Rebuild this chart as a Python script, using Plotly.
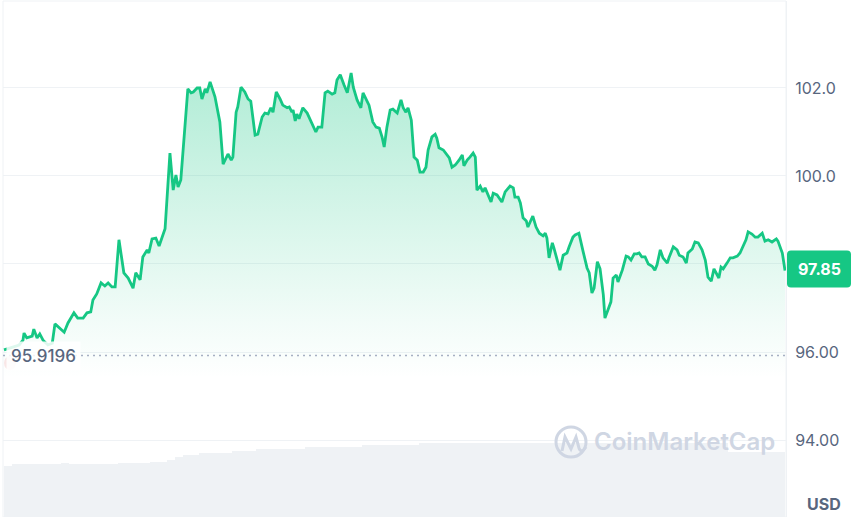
import plotly.graph_objects as go

# ---- data (minutes since start of the 24h window, price in USD) ----
minutes = [0,15,28,35,37,42,52,55,61,66,
           72,81,89,94,101,111,118,129,136,146,
           153,160,164,171,179,186,192,199,205,212,
           221,229,238,243,251,256,264,267,273,280,
           286,291,297,306,312,317,321,326,339,345,
           349,356,361,365,371,374,380,389,398,404,
           413,419,422,428,431,437,444,450,455,463,
           468,476,481,487,492,496,502,509,514,522,
           526,531,533,537,540,544,551,559,568,575,
           579,586,592,597,605,610,614,620,627,633,
           640,644,651,658,662,669,673,680,686,692,
           697,701,706,712,717,725,732,736,741,745,
           751,756,762,767,773,778,782,789,795,798,
           802,810,815,821,826,832,839,845,848,854,
           859,865,869,872,878,883,887,892,898,902,
           909,918,924,933,939,942,948,952,957,
           963,966,975,981,987,994,998,1001,1005,1011,
           1014,1020,1025,1031,1038,1042,1049,1053,1060,1068,
           1075,1079,1084,1088,1094,1099,1105,1108,1114,1119,
           1123,1129,1132,1140,1147,1151,1156,1162,1167,1171,
           1176,1182,1188,1195,1200,1204,1210,1215,1223,1226,
           1234,1241,1245,1252,1258,1261,1269,1274,1280,1287,
           1293,1298,1304,1309,1315,1318,1322,1326,1333,1339,
           1344,1352,1357,1363,1368,1372,1379,1385,1390,1398,
           1403,1409,1416,1424,1427,1435,1440]

prices = [96.05,96.11,96.16,96.27,96.43,96.32,96.36,96.52,96.32,96.41,
          96.27,96.16,96.20,96.64,96.57,96.45,96.66,96.89,96.77,96.77,
          96.89,96.91,97.18,97.32,97.57,97.50,97.57,97.48,97.48,98.55,
          97.80,97.68,97.45,97.80,97.64,98.16,98.32,98.25,98.57,98.59,
          98.41,98.61,98.80,100.52,99.68,100.02,99.75,99.91,101.98,101.89,
          101.91,102.00,102.00,101.75,101.98,101.89,102.14,101.80,101.23,100.27,
          100.50,100.36,100.43,101.45,101.57,102.02,101.91,101.75,101.70,100.93,
          100.95,101.34,101.43,101.41,101.55,101.45,101.91,101.75,101.61,101.55,
          101.57,101.45,101.50,101.25,101.41,101.30,101.55,101.43,101.20,101.00,
          101.11,101.11,101.89,101.93,101.86,101.89,102.18,102.30,102.07,101.89,
          102.34,102.02,101.73,101.55,101.89,101.73,101.61,101.23,101.11,101.09,
          100.89,100.66,101.11,101.50,101.52,101.43,101.73,101.55,101.45,101.55,
          101.27,100.43,100.36,100.09,100.09,100.20,100.59,100.89,100.95,100.86,
          100.64,100.59,100.50,100.41,100.20,100.25,100.36,100.48,100.23,100.36,
          100.43,100.52,100.43,99.68,99.77,99.64,99.73,99.57,99.41,99.61,
          99.57,99.41,99.64,99.77,99.73,99.52,99.52,99.39,99.05,
          98.98,98.84,99.09,98.84,98.70,98.64,98.70,98.59,98.14,98.48,
          98.36,98.05,97.86,98.20,98.25,98.39,98.61,98.66,98.70,98.27,
          97.91,97.80,97.34,97.45,98.05,97.89,97.30,96.77,96.95,97.14,
          97.68,97.75,97.59,97.86,98.18,98.16,98.09,98.23,98.23,98.25,
          98.16,98.16,98.00,97.95,97.86,97.98,98.32,98.14,98.02,98.14,
          98.39,98.32,98.20,98.16,98.02,98.25,98.34,98.50,98.48,98.32,
          98.09,97.70,97.61,97.89,97.75,97.68,97.93,97.89,98.02,98.14,
          98.14,98.18,98.25,98.41,98.55,98.73,98.68,98.61,98.61,98.70,
          98.52,98.55,98.50,98.57,98.52,98.25,97.85]

# 15-minute volume bars (million USD, rolling)
volume = [49.3,51.3,51.3,51.3,51.3,51.3,51.3,52.2,51.3,51.3,
          51.3,51.3,51.3,51.3,52.2,52.2,52.2,52.2,53.2,53.2,
          55.1,58.0,60.0,60.0,61.9,61.9,61.9,61.9,63.8,63.8,
          63.8,66.2,66.2,66.2,66.2,66.2,66.2,67.7,67.7,67.7,
          67.7,67.7,67.7,67.7,69.6,69.6,69.6,69.6,69.6,69.6,
          69.6,71.6,71.6,71.6,71.6,71.6,71.6,71.6,71.6,71.6,
          71.6,71.6,71.6,71.6,71.6,71.6,71.6,71.6,71.6,71.6,
          71.6,71.6,71.6,71.6,71.6,71.6,71.6,71.6,71.6,71.6,
          71.6,71.6,71.6,71.6,71.6,71.6,71.6,71.6,71.6,62.9,
          62.9,62.9,62.9,62.9,62.9,62.9]
vol_minutes = [15 * i + 7.5 for i in range(len(volume))]

open_price = 95.9196
last_price = prices[-1]
tick_vals = [94, 96, 98, 100, 102]
tick_text = ["94.00", "96.00", "", "100.0", "102.0"]

GREEN = "#16c784"
GRID = "#eff2f5"
LABEL = "#58667e"
FONT = "Inter"

fig = go.Figure()

fig.add_trace(go.Bar(
    x=vol_minutes, y=volume, width=15, yaxis="y2",
    marker=dict(color="#eff2f5", line=dict(width=0)),
    hoverinfo="skip", showlegend=False,
))

fig.add_trace(go.Scatter(
    x=minutes, y=prices, mode="lines",
    line=dict(color=GREEN, width=2.8),
    fill="tozeroy",
    fillgradient=dict(
        type="vertical", start=95.4, stop=102.4,
        colorscale=[[0, "rgba(22,199,132,0)"],
                    [0.2, "rgba(22,199,132,0.06)"],
                    [1, "rgba(22,199,132,0.34)"]],
    ),
    showlegend=False,
))

shapes = [
    # container border
    dict(type="rect", xref="paper", yref="paper", x0=0, x1=1, y0=0, y1=1,
         line=dict(color=GRID, width=1), layer="below"),
    # open price dotted line
    dict(type="line", xref="paper", yref="y", x0=0, x1=1, y0=open_price, y1=open_price,
         line=dict(color="#a6b0c3", width=1.5, dash="2px,4px"), layer="above"),
    # faint start marker
    dict(type="circle", xref="paper", yref="paper", xsizemode="pixel", ysizemode="pixel",
         xanchor=0, yanchor=0, x0=1, x1=13, y0=147, y1=161,
         fillcolor="rgba(234,57,67,0.12)", line=dict(width=0), layer="above"),
    # watermark logo
    dict(type="circle", xref="paper", yref="paper", xsizemode="pixel", ysizemode="pixel",
         xanchor=0, yanchor=0, x0=553, x1=583, y0=60, y1=90,
         line=dict(color="#cfd6e3", width=3), layer="above"),
    dict(type="path", xref="paper", yref="paper", xsizemode="pixel", ysizemode="pixel",
         xanchor=0, yanchor=0,
         path="M559,66 L562,80 L568,68 L573,80 L576,69 Q578,63 583,70",
         line=dict(color="#cfd6e3", width=3), layer="above"),
    # price badge
    dict(type="path", xref="paper", yref="y", xsizemode="pixel", ysizemode="pixel",
         xanchor=1, yanchor=last_price,
         path="M5,-17 L61,-17 Q65,-17 65,-13 L65,16 Q65,20 61,20 L5,20 Q1,20 1,16 L1,-13 Q1,-17 5,-17 Z",
         fillcolor=GREEN, line=dict(width=0), layer="above"),
]

annotations = [
    dict(text="95.9196", xref="paper", yref="y", x=0, y=open_price, xanchor="left",
         yanchor="middle", xshift=3, showarrow=False, bgcolor="rgba(255,255,255,0.85)",
         borderpad=4, font=dict(family=FONT, size=17, color=LABEL, weight=500)),
    dict(text=f"{last_price:.2f}", xref="paper", yref="y", x=1, y=last_price,
         xanchor="center", yanchor="middle", xshift=33, yshift=1.5, showarrow=False,
         font=dict(family=FONT, size=16, color="white", weight=700)),
    dict(text="USD", xref="paper", yref="paper", x=1, y=0, xanchor="left", yanchor="bottom",
         xshift=19, yshift=1, showarrow=False,
         font=dict(family=FONT, size=16, color=LABEL, weight=700)),
    dict(text="CoinMarketCap", xref="paper", yref="paper", x=(592 - 3) / 783, y=0.147,
         xanchor="left", yanchor="middle", showarrow=False,
         font=dict(family=FONT, size=24, color="#cfd6e3", weight=600)),
]

fig.update_layout(
    width=862, height=517,
    margin=dict(l=3, r=76, t=1, b=0),
    paper_bgcolor="white", plot_bgcolor="white",
    xaxis=dict(range=[-1.8, 1441.8], visible=False, fixedrange=True),
    yaxis=dict(range=[92.25, 103.977], side="right", tickvals=tick_vals, ticktext=tick_text,
               showgrid=True, gridcolor=GRID, gridwidth=1, zeroline=False,
               showline=True, linecolor=GRID, ticks="", ticklabelstandoff=5,
               tickfont=dict(family=FONT, size=16, color=LABEL)),
    yaxis2=dict(range=[0, 500], overlaying="y", visible=False),
    shapes=shapes, annotations=annotations,
    bargap=0, showlegend=False,
)

fig.write_html(
    "out.html",
    config={"displayModeBar": False},
    post_script="document.body.style.margin='0';document.body.style.overflow='hidden';",
)
